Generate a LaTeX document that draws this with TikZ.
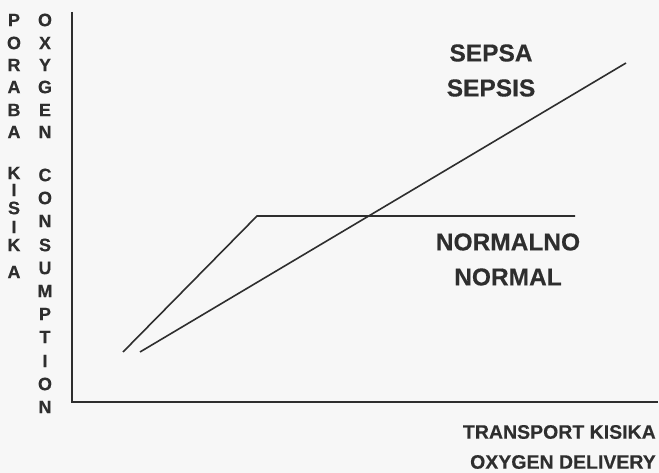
\documentclass[tikz,border=0pt]{standalone}
\usepackage{fontspec}
\setmainfont{Liberation Sans}[BoldFeatures={FakeBold=0.3}]
\begin{document}
\begin{tikzpicture}[x=1pt,y=-1pt,
  lbl/.style={font=\bfseries\fontsize{24.5}{26}\selectfont, text=black!82, inner sep=0pt},
  axlbl/.style={font=\bfseries\fontsize{19.5}{21}\selectfont, text=black!82, inner sep=0pt},
  vlet/.style={font=\bfseries\fontsize{18}{18}\selectfont, text=black!82, inner sep=0pt},
  axis/.style={line width=1.7pt, draw=black!82},
  curve/.style={line width=1.6pt, draw=black!82}]
\fill[black!3] (0,0) rectangle (659,473);
\useasboundingbox (0,0) rectangle (659,473);
% axes
\coordinate (top) at (72,12);
\coordinate (orig) at (72,402);
\coordinate (right) at (658,402);
\draw[axis] (top) -- (orig) -- (right);
% normal curve
\coordinate (n0) at (123,352);
\coordinate (n1) at (257,216);
\coordinate (n2) at (575,216);
\draw[curve] (n0) -- (n1) -- (n2);
% sepsis curve
\coordinate (s0) at (140,352);
\coordinate (s1) at (626,63);
\draw[curve] (s0) -- (s1);
% labels
\node[lbl] (sepsa) at (491,53) {SEPSA};
\node[lbl] (sepsis) at (491,88) {SEPSIS};
\node[lbl] (normalno) at (508,242) {NORMALNO};
\node[lbl] (normal) at (508,277) {NORMAL};
\node[axlbl, anchor=east] (tk) at (656,432) {TRANSPORT KISIKA};
\node[axlbl, anchor=east] (od) at (656,462) {OXYGEN DELIVERY};
% vertical labels left column
\foreach \ch/\yy [count=\i] in {P/20,O/43,R/65,A/87,B/110,A/132,K/173,I/190,S/208,I/227,K/245,A/272}
  \node[vlet] (l\i) at (14,\yy) {\ch};
% right column
\foreach \ch/\yy [count=\i] in {O/20,X/43,Y/65,G/87,E/110,N/132,C/175,O/198,N/221,S/245,U/268,M/291,P/314,T/337,I/361,O/384,N/407}
  \node[vlet] (r\i) at (45,\yy) {\ch};
\end{tikzpicture}
\end{document}
